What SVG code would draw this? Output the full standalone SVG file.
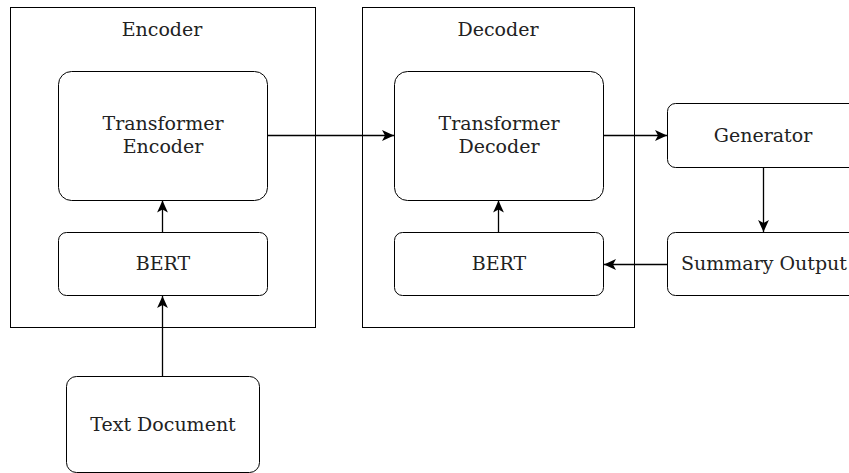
<svg xmlns="http://www.w3.org/2000/svg" width="849" height="473" viewBox="0 0 849 473">
<style>
.box{fill:#fff;stroke:#000;stroke-width:1}
.t{font-family:"DejaVu Serif",serif;font-size:19px;fill:#222;text-anchor:middle}
.c{fill:none;stroke:#000;stroke-width:1.3}
</style>
<defs>
<marker id="ah" viewBox="0 0 10 10" refX="10" refY="5" markerWidth="12" markerHeight="12" markerUnits="userSpaceOnUse" orient="auto">
<path d="M0,0.5 L10,5 L0,9.5 L2.5,5 z" fill="#000"/>
</marker>
</defs>
<rect width="849" height="473" fill="#fff"/>
<g id="encoder">
<rect class="box" x="10.5" y="7.5" width="305" height="320"/>
<text class="t" x="162" y="36">Encoder</text>
</g>
<g id="decoder">
<rect class="box" x="362.5" y="7.5" width="272" height="320"/>
<text class="t" x="498" y="36">Decoder</text>
</g>
<g id="transformer-encoder">
<rect class="box" x="58.5" y="71.5" width="209" height="129" rx="13"/>
<text class="t" x="163" y="130">Transformer</text>
<text class="t" x="163" y="153">Encoder</text>
</g>
<g id="bert-encoder">
<rect class="box" x="58.5" y="232.5" width="209" height="63" rx="8"/>
<text class="t" x="163" y="270">BERT</text>
</g>
<g id="text-document">
<rect class="box" x="66.5" y="376.5" width="193" height="96" rx="10"/>
<text class="t" x="163" y="431">Text Document</text>
</g>
<g id="transformer-decoder">
<rect class="box" x="394.5" y="71.5" width="209" height="129" rx="13"/>
<text class="t" x="499" y="130">Transformer</text>
<text class="t" x="499" y="153">Decoder</text>
</g>
<g id="bert-decoder">
<rect class="box" x="394.5" y="232.5" width="209" height="63" rx="8"/>
<text class="t" x="499" y="270">BERT</text>
</g>
<g id="generator">
<rect class="box" x="667.5" y="103.5" width="192" height="64" rx="8"/>
<text class="t" x="763" y="142">Generator</text>
</g>
<g id="summary-output">
<rect class="box" x="667.5" y="232.5" width="192" height="63" rx="8"/>
<text class="t" x="764" y="270">Summary Output</text>
</g>
<g id="connectors">
<line class="c" x1="267" y1="135.5" x2="394" y2="135.5" marker-end="url(#ah)"/>
<line class="c" x1="162.5" y1="232" x2="162.5" y2="200.5" marker-end="url(#ah)"/>
<line class="c" x1="162.5" y1="376" x2="162.5" y2="296" marker-end="url(#ah)"/>
<line class="c" x1="498.5" y1="232" x2="498.5" y2="200.5" marker-end="url(#ah)"/>
<line class="c" x1="603" y1="135.5" x2="667" y2="135.5" marker-end="url(#ah)"/>
<line class="c" x1="763.5" y1="168" x2="763.5" y2="232" marker-end="url(#ah)"/>
<line class="c" x1="667" y1="264.5" x2="604" y2="264.5" marker-end="url(#ah)"/>
</g>
</svg>
